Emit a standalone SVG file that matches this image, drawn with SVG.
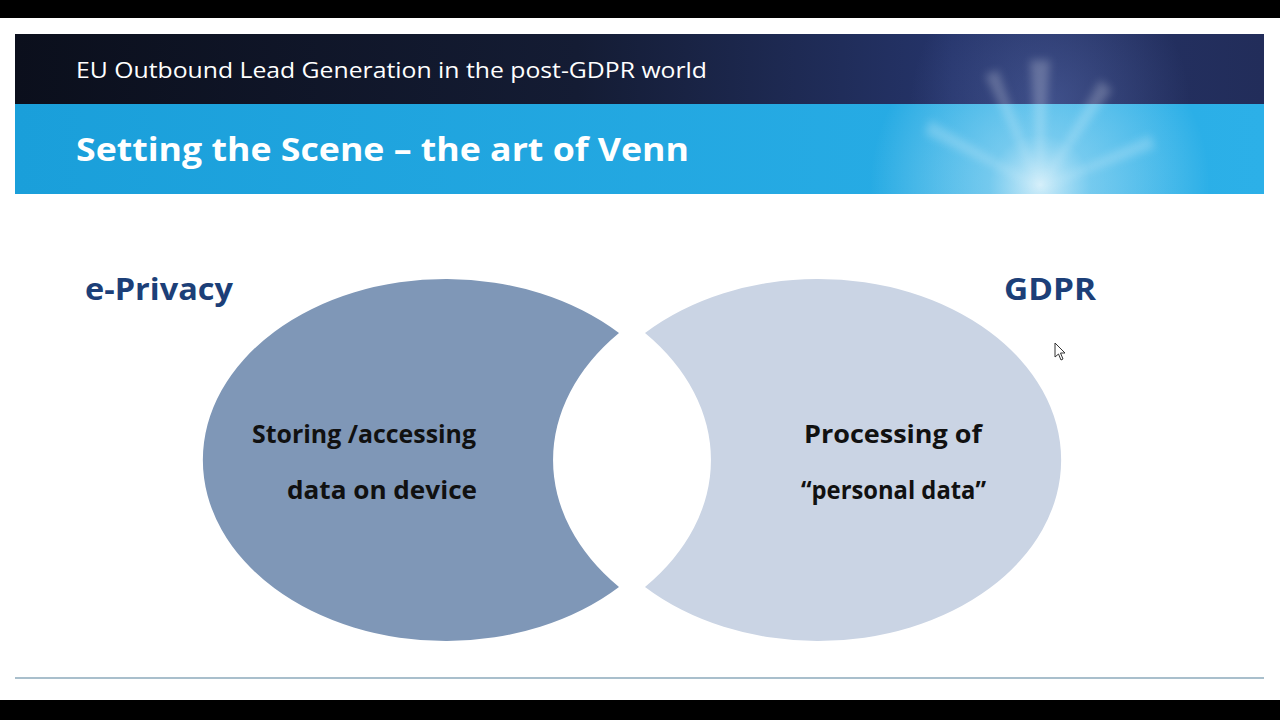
<svg xmlns="http://www.w3.org/2000/svg" width="1280" height="720" viewBox="0 0 1280 720">
  <defs>
    <style>
      .hdr { font-family: "Open Sans", "Liberation Sans", sans-serif; fill: #ffffff; }
      .lbl { font-family: "Open Sans", "Liberation Sans", sans-serif; font-weight: bold; fill: #1c3f78; font-size: 31px; }
      .body { font-family: "Open Sans", "Liberation Sans", sans-serif; font-weight: bold; fill: #111111; font-size: 25px; }
      .ray { fill: #ffffff; }
    </style>
    <linearGradient id="dark" x1="0" y1="0" x2="1" y2="0">
      <stop offset="0" stop-color="#0b0f1c"/>
      <stop offset="0.45" stop-color="#141c34"/>
      <stop offset="0.75" stop-color="#25346a"/>
      <stop offset="1" stop-color="#222d5a"/>
    </linearGradient>
    <linearGradient id="blue" x1="0" y1="0" x2="1" y2="0">
      <stop offset="0" stop-color="#1a9fda"/>
      <stop offset="1" stop-color="#2cb0e8"/>
    </linearGradient>
    <radialGradient id="glow" cx="1040" cy="185" r="170" gradientUnits="userSpaceOnUse">
      <stop offset="0" stop-color="#ffffff" stop-opacity="0.8"/>
      <stop offset="0.3" stop-color="#e6f5fc" stop-opacity="0.4"/>
      <stop offset="1" stop-color="#ffffff" stop-opacity="0"/>
    </radialGradient>
    <radialGradient id="glow2" cx="1050" cy="104" r="140" gradientUnits="userSpaceOnUse">
      <stop offset="0" stop-color="#6a7fc4" stop-opacity="0.4"/>
      <stop offset="1" stop-color="#6a7fc4" stop-opacity="0"/>
    </radialGradient>
    <filter id="soft" x="-20%" y="-20%" width="140%" height="140%">
      <feGaussianBlur stdDeviation="4"/>
    </filter>
    <clipPath id="hclip"><rect x="15" y="34" width="1249" height="160"/></clipPath>
  </defs>

  <rect x="0" y="0" width="1280" height="720" fill="#000000"/>
  <rect x="0" y="18" width="1280" height="682" fill="#ffffff"/>

  <g id="header">
    <rect x="15" y="34" width="1249" height="70" fill="url(#dark)"/>
    <rect x="15" y="104" width="1249" height="90" fill="url(#blue)"/>
    <g clip-path="url(#hclip)">
      <rect x="15" y="34" width="1249" height="70" fill="url(#glow2)"/>
      <rect x="15" y="104" width="1249" height="90" fill="url(#glow)"/>
      <g filter="url(#soft)" opacity="0.22">
        <polygon class="ray" points="1040,188 1030,60 1050,60"/>
        <polygon class="ray" points="1040,188 1100,80 1112,90"/>
        <polygon class="ray" points="1040,188 930,120 925,134"/>
        <polygon class="ray" points="1040,188 1150,135 1155,148"/>
        <polygon class="ray" points="1040,188 985,75 998,70"/>
      </g>
    </g>
    <text class="hdr" x="76" y="78" font-size="22" textLength="631" lengthAdjust="spacingAndGlyphs">EU Outbound Lead Generation in the post-GDPR world</text>
    <text class="hdr" x="76" y="161" font-size="32" font-weight="bold" textLength="613" lengthAdjust="spacingAndGlyphs">Setting the Scene – the art of Venn</text>
  </g>

  <g id="venn-left">
    <path d="M619 333 A243 181 0 1 0 619 587 A267 193 0 0 1 619 333 Z" fill="#7f97b7"/>
  </g>
  <g id="venn-right">
    <path d="M645 333 A243 181 0 1 1 645 587 A267 193 0 0 0 645 333 Z" fill="#cad4e4"/>
  </g>

  <g id="label-eprivacy">
    <text class="lbl" x="85" y="300" textLength="148" lengthAdjust="spacingAndGlyphs">e-Privacy</text>
  </g>
  <g id="label-gdpr">
    <text class="lbl" x="1004" y="300" textLength="92" lengthAdjust="spacingAndGlyphs">GDPR</text>
  </g>

  <g id="text-left">
    <text class="body" x="252" y="443" textLength="224" lengthAdjust="spacingAndGlyphs">Storing /accessing</text>
    <text class="body" x="287" y="499" textLength="190" lengthAdjust="spacingAndGlyphs">data on device</text>
  </g>
  <g id="text-right">
    <text class="body" x="804" y="443" textLength="178" lengthAdjust="spacingAndGlyphs">Processing  of</text>
    <text class="body" x="801" y="499" textLength="185" lengthAdjust="spacingAndGlyphs">“personal data”</text>
  </g>

  <g id="footer">
    <line x1="15" y1="678" x2="1264" y2="678" stroke="#a9bfcc" stroke-width="2"/>
  </g>

  <g id="cursor">
    <path d="M1055 343 L1055 357 L1058.5 354 L1061 360 L1063 359 L1060.5 353 L1065 353 Z" fill="#ffffff" stroke="#333333" stroke-width="1"/>
  </g>
</svg>
